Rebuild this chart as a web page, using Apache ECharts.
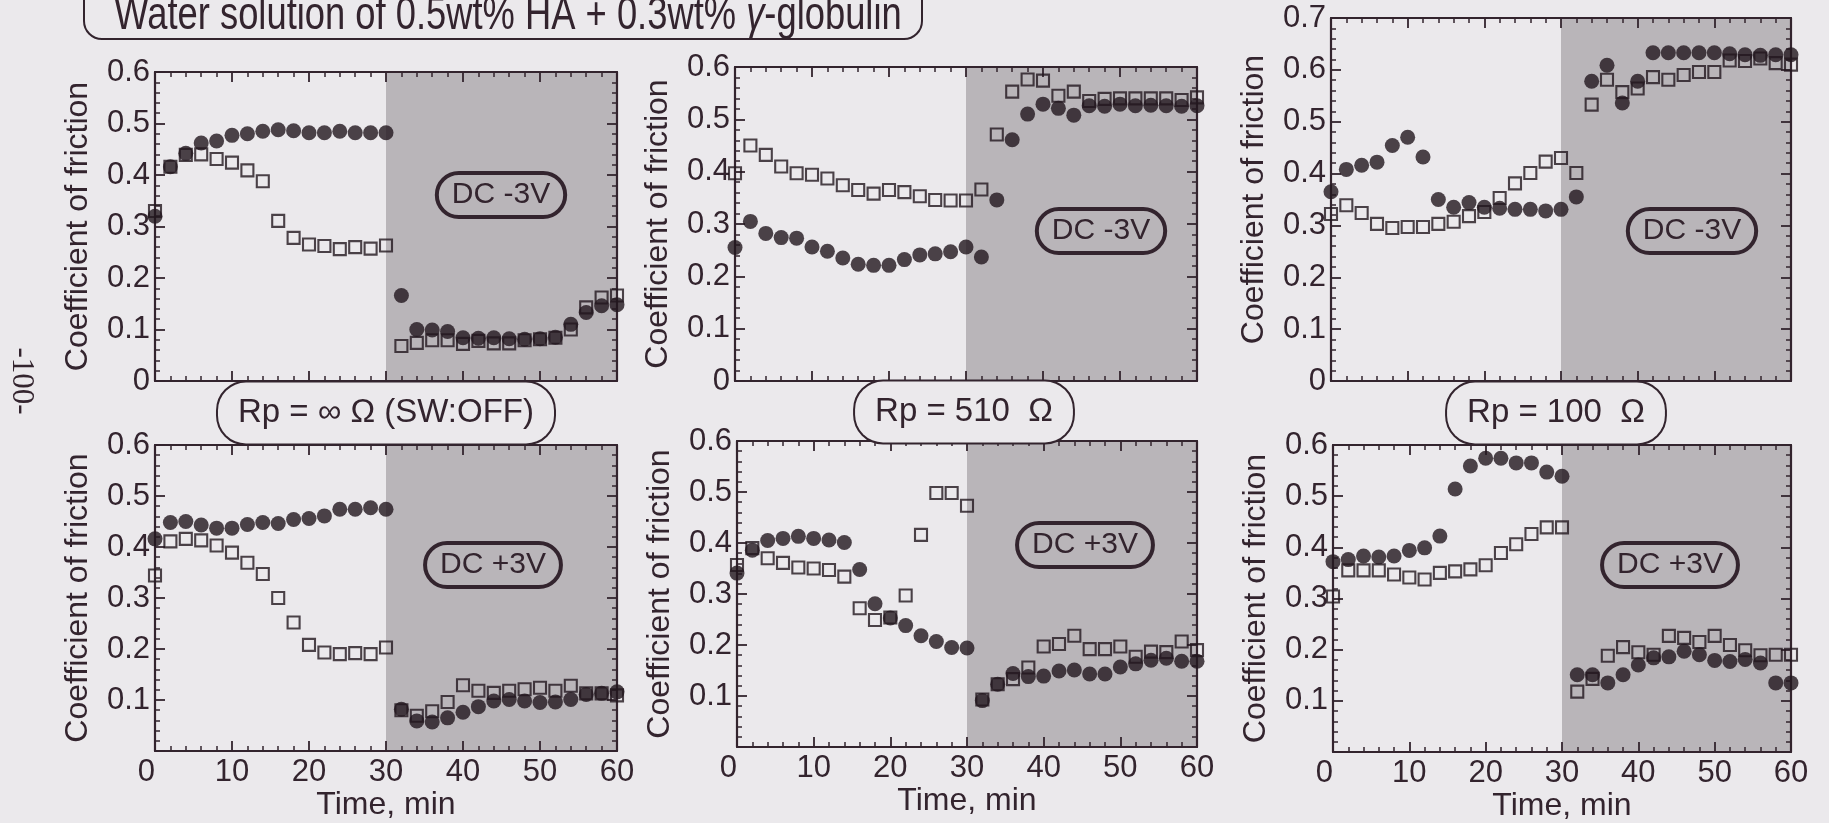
<!DOCTYPE html>
<html>
<head>
<meta charset="utf-8">
<script src="https://cdn.jsdelivr.net/npm/echarts@6/dist/echarts.min.js"></script>
<style>
  html, body { margin: 0; padding: 0; background: #ebe9ec; }
  #chart { width: 1829px; height: 823px; }
</style>
</head>
<body>
<div id="chart"></div>
<script>
// Sampling times (min)
const timeMin = [0, 2, 4, 6, 8, 10, 12, 14, 16, 18, 20, 22, 24, 26, 28, 30,
                 32, 34, 36, 38, 40, 42, 44, 46, 48, 50, 52, 54, 56, 58, 60];
const xTicks = [0, 10, 20, 30, 40, 50, 60];

// DC -3V, Rp = infinity (SW:OFF)
const offMinusCircle = [0.320, 0.416, 0.442, 0.462, 0.466, 0.477, 0.480, 0.485, 0.488, 0.486, 0.482, 0.482, 0.485, 0.482, 0.482, 0.482,
                        0.166, 0.100, 0.099, 0.096, 0.084, 0.083, 0.084, 0.082, 0.081, 0.082, 0.085, 0.110, 0.133, 0.146, 0.148];
const offMinusSquare = [0.330, 0.416, 0.439, 0.440, 0.431, 0.424, 0.409, 0.388, 0.311, 0.278, 0.265, 0.262, 0.256, 0.260, 0.257, 0.263,
                        0.068, 0.074, 0.079, 0.079, 0.072, 0.078, 0.073, 0.073, 0.079, 0.081, 0.084, 0.100, 0.143, 0.162, 0.166];

// DC -3V, Rp = 510 ohm
const r510MinusCircle = [0.255, 0.305, 0.282, 0.274, 0.273, 0.256, 0.248, 0.235, 0.223, 0.221, 0.221, 0.232, 0.241, 0.243, 0.247, 0.256,
                         0.237, 0.346, 0.461, 0.510, 0.529, 0.521, 0.508, 0.526, 0.525, 0.529, 0.526, 0.527, 0.526, 0.525, 0.526];
const r510MinusSquare = [0.397, 0.450, 0.432, 0.410, 0.397, 0.394, 0.387, 0.374, 0.365, 0.358, 0.365, 0.361, 0.353, 0.346, 0.345, 0.345,
                         0.366, 0.471, 0.553, 0.576, 0.574, 0.545, 0.553, 0.535, 0.539, 0.540, 0.540, 0.540, 0.540, 0.537, 0.542];

// DC -3V, Rp = 100 ohm
const r100MinusCircle = [0.365, 0.408, 0.416, 0.422, 0.454, 0.470, 0.432, 0.350, 0.335, 0.344, 0.335, 0.333, 0.331, 0.331, 0.328, 0.331,
                         0.355, 0.578, 0.609, 0.536, 0.578, 0.633, 0.633, 0.633, 0.633, 0.633, 0.631, 0.629, 0.628, 0.629, 0.629];
const r100MinusSquare = [0.322, 0.339, 0.324, 0.303, 0.295, 0.297, 0.297, 0.303, 0.307, 0.318, 0.326, 0.353, 0.381, 0.401, 0.423, 0.430,
                         0.401, 0.533, 0.581, 0.557, 0.564, 0.586, 0.581, 0.590, 0.596, 0.596, 0.618, 0.617, 0.622, 0.613, 0.610];

// DC +3V, Rp = infinity (SW:OFF)
const offPlusCircle = [0.416, 0.448, 0.450, 0.443, 0.437, 0.437, 0.444, 0.448, 0.446, 0.454, 0.456, 0.461, 0.474, 0.474, 0.477, 0.474,
                       0.082, 0.059, 0.057, 0.065, 0.076, 0.087, 0.098, 0.101, 0.098, 0.095, 0.096, 0.101, 0.111, 0.113, 0.116];
const offPlusSquare = [0.344, 0.411, 0.416, 0.413, 0.403, 0.389, 0.369, 0.347, 0.300, 0.252, 0.208, 0.193, 0.190, 0.192, 0.190, 0.203,
                       0.080, 0.069, 0.078, 0.096, 0.129, 0.118, 0.114, 0.118, 0.121, 0.124, 0.118, 0.128, 0.113, 0.113, 0.109];

// DC +3V, Rp = 510 ohm
const r510PlusCircle = [0.341, 0.386, 0.405, 0.409, 0.413, 0.409, 0.406, 0.401, 0.348, 0.281, 0.253, 0.238, 0.218, 0.207, 0.195, 0.194,
                        0.091, 0.123, 0.144, 0.138, 0.139, 0.149, 0.151, 0.143, 0.143, 0.157, 0.163, 0.170, 0.174, 0.168, 0.168];
const r510PlusSquare = [0.357, 0.390, 0.370, 0.361, 0.352, 0.350, 0.347, 0.334, 0.272, 0.249, 0.254, 0.297, 0.416, 0.498, 0.498, 0.473,
                        0.093, 0.123, 0.133, 0.156, 0.197, 0.202, 0.218, 0.192, 0.192, 0.197, 0.177, 0.187, 0.186, 0.207, 0.190];

// DC +3V, Rp = 100 ohm
const r100PlusCircle = [0.372, 0.376, 0.383, 0.381, 0.383, 0.394, 0.399, 0.422, 0.514, 0.559, 0.574, 0.574, 0.565, 0.565, 0.547, 0.539,
                        0.151, 0.151, 0.135, 0.151, 0.170, 0.184, 0.186, 0.197, 0.190, 0.179, 0.177, 0.181, 0.174, 0.135, 0.135];
const r100PlusSquare = [0.304, 0.355, 0.355, 0.355, 0.347, 0.341, 0.337, 0.350, 0.353, 0.357, 0.365, 0.389, 0.406, 0.426, 0.439, 0.439,
                        0.118, 0.143, 0.188, 0.205, 0.195, 0.190, 0.227, 0.223, 0.215, 0.227, 0.209, 0.199, 0.189, 0.190, 0.190];

// Span during which the voltage is applied (min)
const voltageOn = [30, 60];

// Text
const titleText = 'Water solution of 0.5wt% HA + 0.3wt% ';
const titleGreek = 'γ';
const titleTail = '-globulin';
const yName = 'Coefficient of friction';
const xName = 'Time, min';
const dcLabels = ['DC -3V', 'DC -3V', 'DC -3V', 'DC +3V', 'DC +3V', 'DC +3V'];
const rpLabels = ['Rp = ∞ Ω (SW:OFF)', 'Rp = 510  Ω', 'Rp = 100  Ω'];
const pageNumber = '-100-';

const INK = '#33242e';
const MARK = '#22161e';
const SHADE = '#b9b5b9';
const BG = '#ebe9ec';
const FONT = '"Liberation Sans", Arial, Helvetica, sans-serif';

// Panel frames (px) and per-panel settings
const panels = [
  { box: { left: 155,  top: 72,  width: 462, height: 309 }, yMax: 0.6, bottomRow: false, circle: offMinusCircle,  square: offMinusSquare,  dc: [501, 195] },
  { box: { left: 735,  top: 67,  width: 462, height: 314 }, yMax: 0.6, bottomRow: false, circle: r510MinusCircle, square: r510MinusSquare, dc: [1101, 231] },
  { box: { left: 1331, top: 18,  width: 460, height: 363 }, yMax: 0.7, bottomRow: false, circle: r100MinusCircle, square: r100MinusSquare, dc: [1692, 231] },
  { box: { left: 155,  top: 445, width: 462, height: 306 }, yMax: 0.6, bottomRow: true,  circle: offPlusCircle,   square: offPlusSquare,   dc: [493, 565] },
  { box: { left: 737,  top: 441, width: 460, height: 306 }, yMax: 0.6, bottomRow: true,  circle: r510PlusCircle,  square: r510PlusSquare,  dc: [1085, 545] },
  { box: { left: 1333, top: 445, width: 458, height: 307 }, yMax: 0.6, bottomRow: true,  circle: r100PlusCircle,  square: r100PlusSquare,  dc: [1670, 565] }
];
const rpCenters = [[386, 413], [964, 412], [1556, 413]];

const lineStyle = { color: INK, width: 2.2 };
const tickStyle = { color: INK, width: 1.8 };
const minorStyle = { color: INK, width: 1.5 };

function xAxisFor(i, position, withLabels) {
  return {
    type: 'value', gridIndex: i, position: position,
    min: xTicks[0], max: xTicks[xTicks.length - 1], interval: xTicks[1] - xTicks[0],
    z: 10,
    axisLine: { show: true, onZero: false, lineStyle: lineStyle },
    axisTick: { show: true, inside: true, length: 10, lineStyle: tickStyle },
    minorTick: { show: true, splitNumber: 5, length: 5, lineStyle: minorStyle },
    splitLine: { show: false },
    axisLabel: withLabels ? {
      show: true, color: INK, fontSize: 31, fontFamily: FONT, margin: 6,
      alignMinLabel: 'right',
      formatter: v => String(v)
    } : { show: false },
    name: withLabels ? xName : '',
    nameLocation: 'middle', nameGap: 36,
    nameTextStyle: { color: INK, fontSize: 32, fontFamily: FONT }
  };
}

function yAxisFor(i, position, p, withLabels) {
  return {
    type: 'value', gridIndex: i, position: position,
    min: 0, max: p.yMax, interval: 0.1,
    z: 10,
    axisLine: { show: true, onZero: false, lineStyle: lineStyle },
    axisTick: { show: true, inside: true, length: 10, lineStyle: tickStyle },
    minorTick: { show: true, splitNumber: 5, length: 5, lineStyle: minorStyle },
    splitLine: { show: false },
    axisLabel: withLabels ? {
      show: true, color: INK, fontSize: 31, fontFamily: FONT, margin: 5,
      formatter: v => (p.bottomRow && Math.abs(v) < 1e-9) ? '' : String(+v.toFixed(1))
    } : { show: false },
    name: withLabels ? yName : '',
    nameLocation: 'middle', nameGap: 61,
    nameTextStyle: { color: INK, fontSize: 32, fontFamily: FONT }
  };
}

const grids = [], xAxes = [], yAxes = [], series = [];
panels.forEach((p, i) => {
  grids.push(Object.assign({ containLabel: false }, p.box));
  xAxes.push(xAxisFor(i, 'bottom', p.bottomRow));
  xAxes.push(xAxisFor(i, 'top', false));
  yAxes.push(yAxisFor(i, 'left', p, true));
  yAxes.push(yAxisFor(i, 'right', p, false));
  series.push({
    type: 'scatter', xAxisIndex: 2 * i, yAxisIndex: 2 * i, z: 12, clip: false,
    symbol: 'rect', symbolSize: 12,
    itemStyle: { color: 'rgba(0,0,0,0)', borderColor: MARK, borderWidth: 2.1 },
    data: timeMin.map((t, k) => [t, p.square[k]]),
    markArea: {
      silent: true,
      itemStyle: { color: SHADE, opacity: 1 },
      data: [[{ xAxis: voltageOn[0] }, { xAxis: voltageOn[1] }]]
    }
  });
  series.push({
    type: 'scatter', xAxisIndex: 2 * i, yAxisIndex: 2 * i, z: 13, clip: false,
    symbol: 'circle', symbolSize: 15,
    itemStyle: { color: MARK },
    data: timeMin.map((t, k) => [t, p.circle[k]])
  });
});

function boxedText(text, cx, cy, size, pad, radius, fill) {
  return {
    type: 'text', x: cx, y: cy, z: 50,
    style: {
      text: text, x: 0, y: 0,
      font: size + 'px ' + FONT, fill: INK,
      align: 'center', verticalAlign: 'middle',
      textAlign: 'center', textVerticalAlign: 'middle',
      padding: pad, borderColor: INK, borderWidth: 2, borderRadius: radius,
      backgroundColor: fill
    }
  };
}

const graphics = [];
// Title box (its top runs off the page)
graphics.push({
  type: 'rect', z: 40,
  shape: { x: 84, y: -40, width: 838, height: 79, r: 18 },
  style: { fill: 'none', stroke: INK, lineWidth: 2 }
});
graphics.push({
  type: 'text', x: 508, y: 16, scaleX: 0.79, z: 41,
  style: {
    text: '{a|' + titleText + '}{g|' + titleGreek + '}{a|' + titleTail + '}',
    x: 0, y: 0, align: 'center', verticalAlign: 'middle',
    textAlign: 'center', textVerticalAlign: 'middle',
    fill: INK, font: '46px ' + FONT,
    rich: {
      a: { fontSize: 46, fontFamily: FONT, color: INK },
      g: { fontSize: 46, fontFamily: FONT, color: INK, fontStyle: 'italic' }
    }
  }
});
panels.forEach((p, i) => {
  graphics.push(boxedText(dcLabels[i], p.dc[0], p.dc[1], 30, [7, 15], 24, 'rgba(0,0,0,0)'));
});
rpLabels.forEach((t, i) => {
  graphics.push(boxedText(t, rpCenters[i][0], rpCenters[i][1], 33, [14, 20], 28, BG));
});
graphics.push({
  type: 'text', x: 21, y: 381, rotation: -Math.PI / 2, z: 41,
  style: {
    text: pageNumber, x: 0, y: 0, fill: INK,
    font: '31px "Liberation Serif", "Times New Roman", serif',
    align: 'center', verticalAlign: 'middle',
    textAlign: 'center', textVerticalAlign: 'middle'
  }
});

const chart = echarts.init(document.getElementById('chart'), null, { renderer: 'canvas' });
chart.setOption({
  backgroundColor: BG,
  animation: false,
  grid: grids,
  xAxis: xAxes,
  yAxis: yAxes,
  series: series,
  graphic: { elements: graphics }
});
</script>
</body>
</html>
